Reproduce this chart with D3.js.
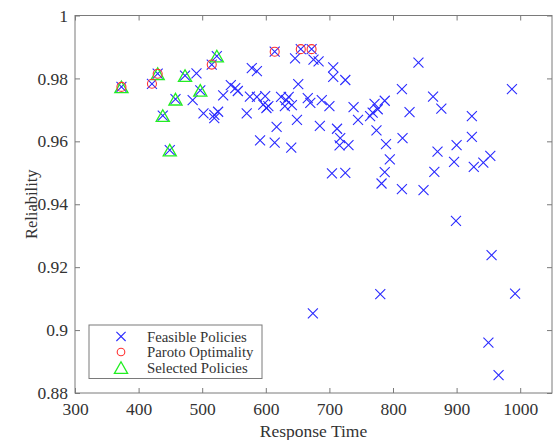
<!DOCTYPE html>
<html><head><meta charset="utf-8">
<script src="https://cdn.jsdelivr.net/npm/d3@7"></script>
<style>
html,body{margin:0;padding:0;background:#fff;}
svg{display:block;font-family:"Liberation Serif","Times New Roman",serif;}
svg text{font-family:"Liberation Serif","Times New Roman",serif;}
</style></head>
<body><svg id="c" width="559" height="440"></svg>
<script>
const feasibleX = [373,421,430,473,458,438,449,497,523,515,614,655,672,491,485,502,519,525,519,533,545,552,556,570,575,578,586,586,599,596,601,604,591,614,617,624,632,636,630,641,640,649,651,646,675,683,706,706,725,666,670,688,700,685,712,717,716,730,738,745,704,725,674,764,768,771,776,787,774,789,795,787,782,814,848,815,814,826,840,863,876,870,865,900,896,924,924,953,942,927,987,899,955,992,780,950,966];
const feasibleY = [0.9773,0.9783,0.9815,0.9809,0.9734,0.9682,0.9572,0.9762,0.9871,0.9844,0.9885,0.9893,0.9893,0.9816,0.9731,0.9689,0.9684,0.9694,0.9674,0.9746,0.9779,0.9769,0.9760,0.9689,0.9742,0.9833,0.9823,0.9741,0.9744,0.9717,0.9706,0.9712,0.9603,0.9596,0.9646,0.9741,0.9731,0.9741,0.9712,0.9715,0.9580,0.9668,0.9782,0.9864,0.9860,0.9854,0.9835,0.9805,0.9795,0.9737,0.9722,0.9731,0.9712,0.9649,0.9640,0.9610,0.9587,0.9588,0.9709,0.9668,0.9498,0.9500,0.9053,0.9680,0.9691,0.9719,0.9702,0.9729,0.9635,0.9591,0.9543,0.9502,0.9466,0.9448,0.9445,0.9610,0.9766,0.9693,0.9850,0.9742,0.9704,0.9567,0.9503,0.9588,0.9535,0.9680,0.9614,0.9554,0.9532,0.9519,0.9766,0.9347,0.9238,0.9116,0.9114,0.8960,0.8857];
const paretoX = [373,421,430,515,614,655,672];
const paretoY = [0.9773,0.9783,0.9815,0.9844,0.9885,0.9893,0.9893];
const selectedX = [373,430,473,458,438,449,497,523];
const selectedY = [0.9773,0.9815,0.9809,0.9734,0.9682,0.9572,0.9762,0.9871];
const xTicks = [300,400,500,600,700,800,900,1000];
const yTicks = [0.88,0.9,0.92,0.94,0.96,0.98,1];
const legendLabels = ["Feasible Policies","Paroto Optimality","Selected Policies"];

const svg = d3.select("#c");
const L=75, R=552, T=15.5, B=393;
const x = d3.scaleLinear().domain([300,1050]).range([L,R]);
const y = d3.scaleLinear().domain([0.88,1]).range([B,T]);
const axisCol = "#7a7a7a", textCol = "#333333";
const fmtY = d => String(+d.toFixed(2));
const FONT = "Liberation Serif, Times New Roman, serif";

svg.append("rect").attr("x",L).attr("y",T).attr("width",R-L).attr("height",B-T)
  .attr("fill","#fff").attr("stroke",axisCol).attr("stroke-width",1);

function styleAxis(g){
  g.select(".domain").remove();
  g.selectAll(".tick line").attr("stroke",axisCol);
  g.selectAll(".tick text").attr("fill",textCol).attr("font-family",FONT).style("font-size","17.5px");
}
svg.append("g").attr("transform",`translate(0,${B})`)
  .call(d3.axisBottom(x).tickValues(xTicks).tickSizeInner(-5).tickSizeOuter(0).tickPadding(10).tickFormat(d3.format("d")))
  .call(styleAxis);
svg.append("g").attr("transform",`translate(0,${T})`)
  .call(d3.axisTop(x).tickValues(xTicks).tickSizeInner(-5).tickSizeOuter(0).tickFormat(""))
  .call(styleAxis);
svg.append("g").attr("transform",`translate(${L},0)`)
  .call(d3.axisLeft(y).tickValues(yTicks).tickSizeInner(-5).tickSizeOuter(0).tickPadding(7).tickFormat(fmtY))
  .call(styleAxis);
svg.append("g").attr("transform",`translate(${R},0)`)
  .call(d3.axisRight(y).tickValues(yTicks).tickSizeInner(-5).tickSizeOuter(0).tickFormat(""))
  .call(styleAxis);

const xs = 5;
function crossPath(cx,cy,s){s=s||xs;return `M${cx-s},${cy-s}L${cx+s},${cy+s}M${cx-s},${cy+s}L${cx+s},${cy-s}`;}
function triPath(cx,cy){const w=6.6,h=5.8;return `M${cx},${cy-h}L${cx+w},${cy+h}L${cx-w},${cy+h}Z`;}

const plot = svg.append("g");
const feas = d3.zip(feasibleX,feasibleY);
plot.selectAll("path.f").data(feas).join("path").attr("class","f")
  .attr("d",d=>crossPath(x(d[0]),y(d[1]))).attr("stroke","#2a2aff").attr("stroke-width",1.1).attr("fill","none");
plot.selectAll("path.s").data(d3.zip(selectedX,selectedY)).join("path").attr("class","s")
  .attr("d",d=>triPath(x(d[0]),y(d[1]))).attr("stroke","#22ee22").attr("stroke-width",1.3).attr("fill","none");
plot.selectAll("circle.p").data(d3.zip(paretoX,paretoY)).join("circle").attr("class","p")
  .attr("cx",d=>x(d[0])).attr("cy",d=>y(d[1])).attr("r",4.5)
  .attr("stroke","#ff3333").attr("stroke-width",1.1).attr("fill","none");

// legend
const lg = svg.append("g");
lg.append("rect").attr("x",89).attr("y",325).attr("width",173).attr("height",53.5)
  .attr("fill","#fff").attr("stroke",axisCol);
const rows = [336.4,352,367.6];
lg.append("path").attr("d",crossPath(121,rows[0],4.6)).attr("stroke","#2a2aff").attr("stroke-width",1.1);
lg.append("circle").attr("cx",121).attr("cy",rows[1]).attr("r",3.8).attr("fill","none").attr("stroke","#ff3333").attr("stroke-width",1.1);
lg.append("path").attr("d",triPath(121,rows[2])).attr("fill","none").attr("stroke","#22ee22").attr("stroke-width",1.3);
lg.selectAll("text").data(legendLabels).join("text")
  .attr("x",147).attr("y",(d,i)=>rows[i]).attr("dy","0.35em").attr("font-family",FONT)
  .attr("fill",textCol).style("font-size","14.8px").text(d=>d);

svg.append("text").attr("x",(L+R)/2).attr("y",437).attr("text-anchor","middle").attr("font-family",FONT)
  .attr("fill",textCol).style("font-size","17.5px").text("Response Time");
svg.append("text").attr("transform",`translate(37,${(T+B)/2}) rotate(-90)`).attr("text-anchor","middle").attr("font-family",FONT)
  .attr("fill",textCol).style("font-size","16.5px").text("Reliability");
</script></body></html>
